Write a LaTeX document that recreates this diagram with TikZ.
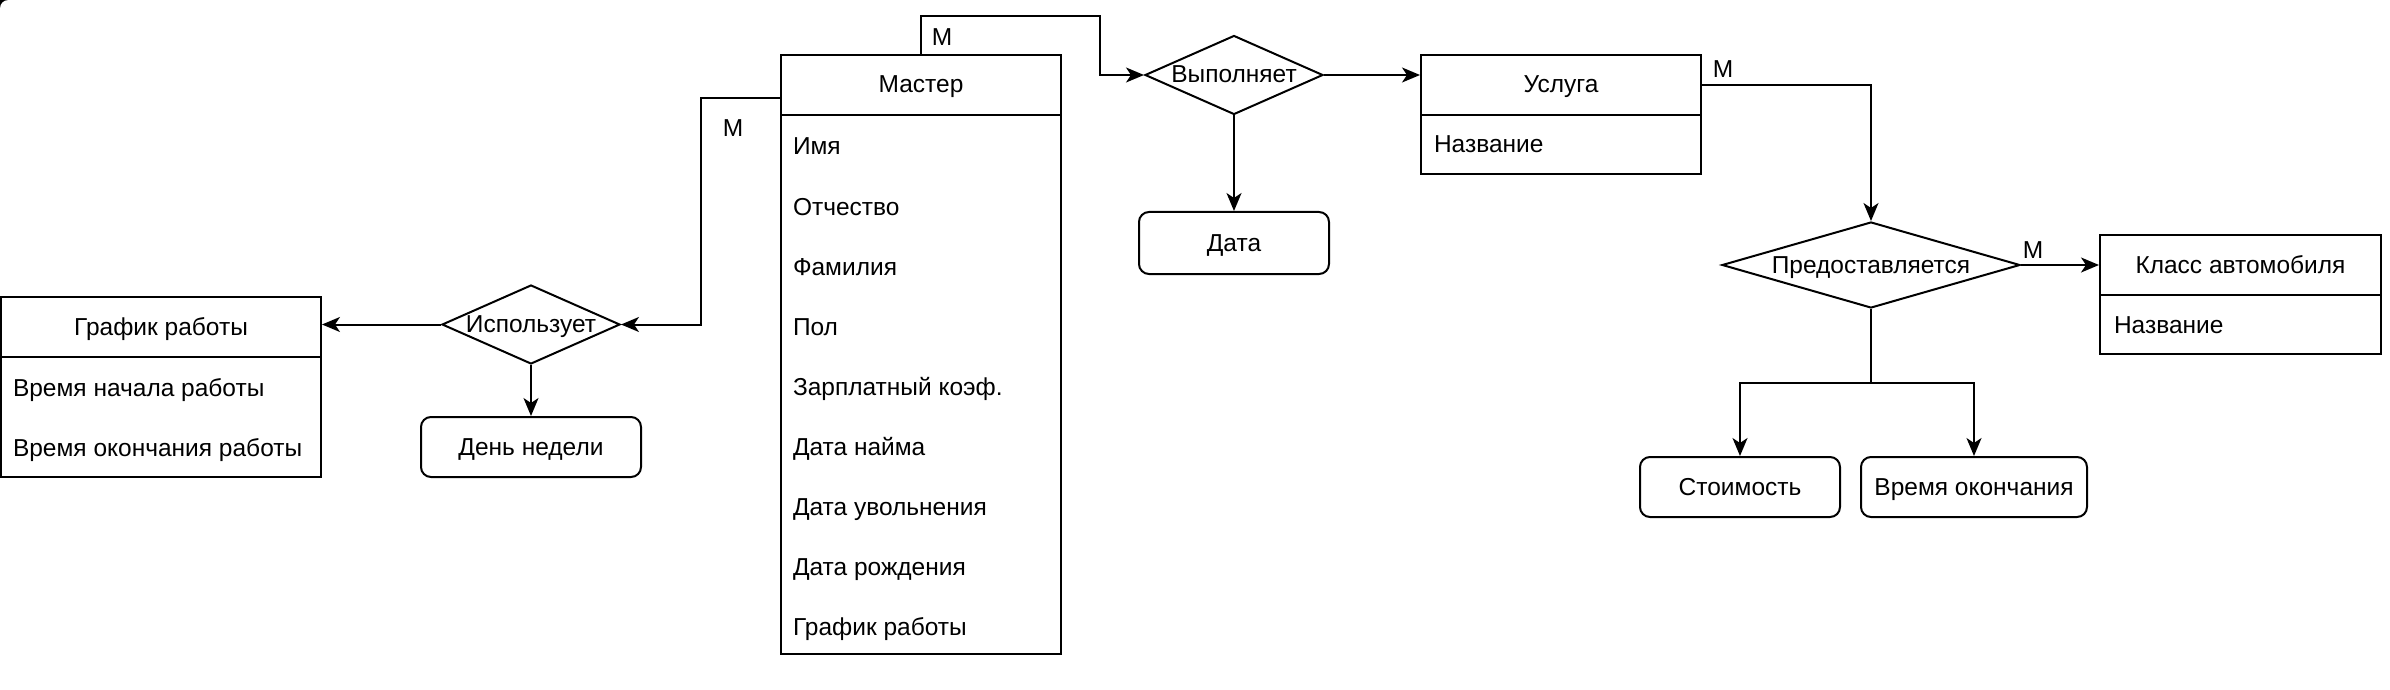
\documentclass[tikz,border=0pt]{standalone}
\usepackage{fontspec}
\setmainfont{Liberation Sans}
\usetikzlibrary{arrows.meta,shapes.geometric}
\begin{document}
\begin{tikzpicture}[x=0.5pt,y=-0.5pt,
  line width=1pt,
  txt/.style={font=\fontsize{12.25}{14}\selectfont, inner sep=0pt, text height=9pt, text depth=1pt},
  hdr/.style={txt, draw, minimum height=30pt},
  body/.style={draw, inner sep=0pt},
  attr/.style={txt, anchor=west},
  rel/.style={txt, draw, shape=diamond, aspect=2.25},
  val/.style={txt, draw, rounded corners=5pt},
  card/.style={txt},
  conn/.style={-{Stealth[length=9pt,width=7.5pt,inset=2.5pt]}, line join=miter}
]
\useasboundingbox (0,0) rectangle (2390,690);
\fill[black] (0,0) -- (8,0) .. controls (3.58,0) and (0,3.58) .. (0,8) -- cycle;

% График работы
\node[body, minimum width=160pt, minimum height=60pt] (grafb) at (161,417) {};
\node[hdr, minimum width=160pt] (grafh) at (161,327) {График работы};
\node[attr] (g1) at (12,388) {Время начала работы};
\node[attr] (g2) at (12,448) {Время окончания работы};

% Мастер
\node[body, minimum width=140pt, minimum height=269.5pt] (mb) at (921,384.5) {};
\node[hdr, minimum width=140pt] (mh) at (921,85) {Мастер};
\node[attr] (m1) at (792,147) {Имя};
\node[attr] (m2) at (792,207) {Отчество};
\node[attr] (m3) at (792,267) {Фамилия};
\node[attr] (m4) at (792,327) {Пол};
\node[attr] (m5) at (792,387) {Зарплатный коэф.};
\node[attr] (m6) at (792,447) {Дата найма};
\node[attr] (m7) at (792,507) {Дата увольнения};
\node[attr] (m8) at (792,567) {Дата рождения};
\node[attr] (m9) at (792,627) {График работы};

% Услуга
\node[body, minimum width=140pt, minimum height=29.5pt] (ub) at (1561,144.5) {};
\node[hdr, minimum width=140pt] (uh) at (1561,85) {Услуга};
\node[attr] (u1) at (1433,145) {Название};

% Класс автомобиля
\node[body, minimum width=140.5pt, minimum height=29.5pt] (kb) at (2240.5,324.5) {};
\node[hdr, minimum width=140.5pt] (kh) at (2240.5,265) {Класс автомобиля};
\node[attr] (k1) at (2113,325) {Название};

% relations
\node[rel, minimum width=89pt, minimum height=39.5pt] (isp) at (531,324.5) {\makebox[0pt]{Использует}};
\node[rel, minimum width=89pt, minimum height=39.5pt] (vyp) at (1234,75) {\makebox[0pt]{Выполняет}};
\node[rel, minimum width=149pt, minimum height=43pt] (pred) at (1871,265) {\makebox[0pt]{Предоставляется}};

% value boxes
\node[val, minimum width=110pt, minimum height=30pt] (den) at (531,447) {День недели};
\node[val, minimum width=95pt, minimum height=31pt] (data) at (1234,243) {Дата};
\node[val, minimum width=100pt, minimum height=30pt] (stoim) at (1740,487) {Стоимость};
\node[val, minimum width=113pt, minimum height=30pt] (vrem) at (1974,487) {Время окончания};

% connectors
\draw[conn] ([yshift=-6.5pt]mh.west) -- (701,98) -- (701,324.5) -- (isp.east);
\draw[conn] (isp.west) -- (isp.west -| grafh.east);
\draw[conn] (isp.south) -- (den.north);
\draw[conn] (mh.north) -- (921,16) -- (1100,16) -- (1100,75) -- (vyp.west);
\draw[conn] (vyp.south) -- (vyp.south |- data.north);
\draw[conn] (vyp.east) -- (vyp.east -| uh.west);
\draw[conn] (uh.east) -- (uh.east -| pred.north) -- (pred.north);
\draw[conn] (pred.east) -- (pred.east -| kh.west);
\coordinate (split) at (1871,383);
\draw (pred.south) -- (split);
\draw[conn] (split) -| (stoim.north);
\draw[conn] (split) -| (vrem.north);

% cardinalities
\node[card] (c1) at (733,129) {M};
\node[card] (c2) at (942,38) {M};
\node[card] (c3) at (1723,70) {M};
\node[card] (c4) at (2033,250) {M};
\end{tikzpicture}
\end{document}
